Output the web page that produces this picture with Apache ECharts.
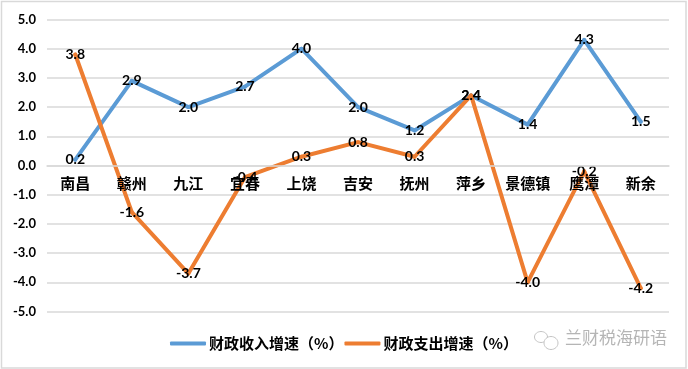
<!DOCTYPE html>
<html><head><meta charset="utf-8">
<style>html,body{margin:0;padding:0;background:#fff}#c{width:688px;height:369px}</style>
<script src="https://cdn.jsdelivr.net/npm/echarts@6/dist/echarts.min.js"></script>
</head><body><div id="c"></div>
<script>
const categories=['南昌','赣州','九江','宜春','上饶','吉安','抚州','萍乡','景德镇','鹰潭','新余'];
const revenue=[0.2,2.9,2.0,2.7,4.0,2.0,1.2,2.4,1.4,4.3,1.5];
const expenditure=[3.8,-1.6,-3.7,-0.4,0.3,0.8,0.3,2.4,-4.0,-0.2,-4.2];
const seriesNames=['财政收入增速（%）','财政支出增速（%）'];
const watermark='兰财税海研语';
const chart=echarts.init(document.getElementById('c'),null,{renderer:'canvas'});
const mk=(name,data,color,z)=>({name,type:'line',data,z,symbol:'circle',symbolSize:4,showAllSymbol:true,
  lineStyle:{color,width:4,join:'round',cap:'round'},itemStyle:{color},
  label:{show:true,position:'inside',align:'center',verticalAlign:'middle',color:'#000',fontFamily:'Lato',fontWeight:'bold',fontSize:14,formatter:p=>p.value.toFixed(1)},
  labelLayout:{hideOverlap:false},emphasis:{disabled:true}});
chart.setOption({
  animation:false,backgroundColor:'#fff',
  grid:{left:47,right:19,top:19.5,bottom:57.5},
  legend:{show:true,left:170,top:336,padding:0,itemGap:1,itemWidth:36,itemHeight:4,icon:'roundRect',
    textStyle:{fontFamily:'Noto Sans CJK SC',fontWeight:'bold',fontSize:15,color:'#000',padding:[0,0,0,-2]},data:seriesNames},
  xAxis:{type:'category',data:categories,offset:-146,axisTick:{show:false},
    axisLine:{onZero:false,lineStyle:{color:'#d9d9d9',width:1.5}},
    axisLabel:{margin:10,color:'#000',fontFamily:'Noto Sans CJK SC',fontWeight:'bold',fontSize:15,interval:0},z:10},
  yAxis:{type:'value',min:-5,max:5,interval:1,axisLine:{show:false},axisTick:{show:false},
    splitLine:{lineStyle:{color:'#d9d9d9',width:1.5}},
    axisLabel:{margin:11,color:'#000',fontFamily:'Lato',fontWeight:'bold',fontSize:13,formatter:v=>v.toFixed(1)}},
  series:[mk(seriesNames[0],revenue,'#5b9bd5',3),mk(seriesNames[1],expenditure,'#ed7d31',4)],
  graphic:[
    {type:'rect',z:-1,shape:{x:1.5,y:1.5,width:684.5,height:366.5},style:{fill:'none',stroke:'#d9d9d9',lineWidth:1.5}},
    {type:'text',left:565,top:329,z:20,style:{text:watermark,fontFamily:'Noto Sans CJK SC',fontSize:17,fill:'#b5b5b5'}},
    {type:'ellipse',z:20,shape:{cx:541,cy:337,rx:6.5,ry:5.5},style:{fill:'none',stroke:'#c4c4c4',lineWidth:1}},
    {type:'ellipse',z:20,shape:{cx:551,cy:343,rx:7,ry:6.5},style:{fill:'#fff',stroke:'#c4c4c4',lineWidth:1}}
  ]
});
</script></body></html>
